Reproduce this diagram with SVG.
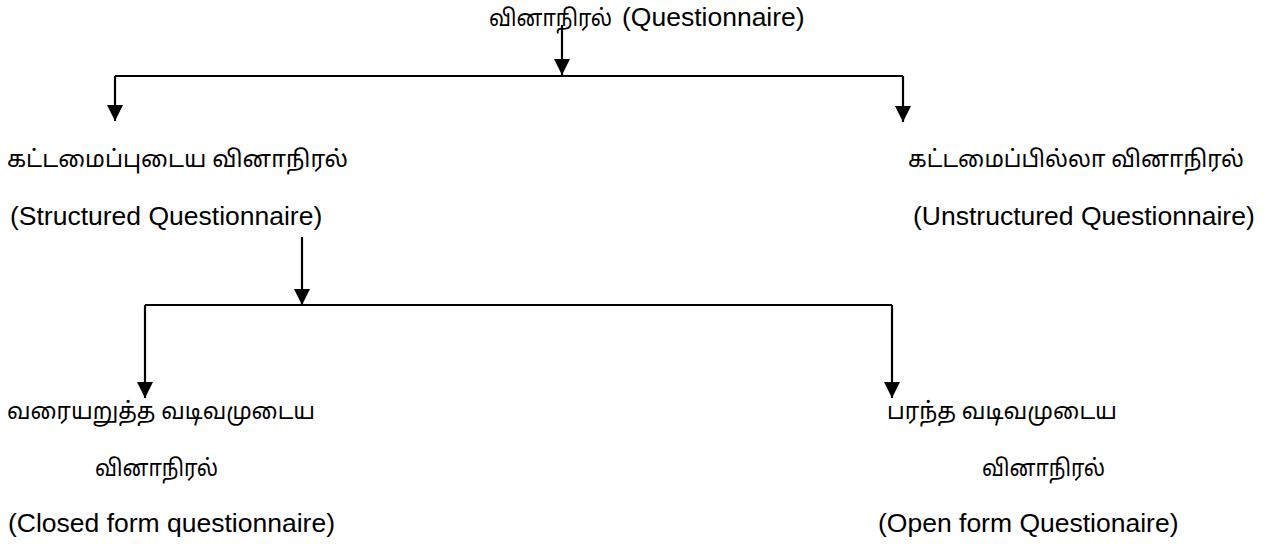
<svg xmlns="http://www.w3.org/2000/svg" width="1278" height="544" viewBox="0 0 1278 544">
<defs>
<style>
.en{font-family:"Liberation Sans",Arial,sans-serif;font-size:26.5px;fill:#000}
.ta{font-family:"Noto Sans Tamil","Latha","Noto Sans","DejaVu Sans",sans-serif;font-size:23.5px;fill:#000}
.ln{stroke:#000;stroke-width:2.2;fill:none}
</style>
<marker id="ah" markerUnits="userSpaceOnUse" markerWidth="16" markerHeight="16" viewBox="0 0 16 16" refX="16" refY="8" orient="auto">
<path d="M0,0 L16,8 L0,16 Z" fill="#000"/>
</marker>
</defs>
<rect width="1278" height="544" fill="#fff"/>
<g id="connectors">
<path class="ln" d="M562,25 V75" marker-end="url(#ah)"/>
<path class="ln" d="M115,76 H903"/>
<path class="ln" d="M115,76 V121" marker-end="url(#ah)"/>
<path class="ln" d="M903,76 V122" marker-end="url(#ah)"/>
<path class="ln" d="M302,237 V305" marker-end="url(#ah)"/>
<path class="ln" d="M145,305 H892"/>
<path class="ln" d="M145,305 V398" marker-end="url(#ah)"/>
<path class="ln" d="M892,305 V398" marker-end="url(#ah)"/>
</g>
<g id="node-questionnaire">
<text class="ta" x="489" y="26" textLength="123" lengthAdjust="spacingAndGlyphs">வினாநிரல்</text>
<text class="en" x="622" y="26">(Questionnaire)</text>
</g>
<g id="node-structured">
<text class="ta" x="7" y="167" textLength="341" lengthAdjust="spacingAndGlyphs">கட்டமைப்புடைய வினாநிரல்</text>
<text class="en" x="10" y="225">(Structured Questionnaire)</text>
</g>
<g id="node-unstructured">
<text class="ta" x="908" y="167" textLength="336" lengthAdjust="spacingAndGlyphs">கட்டமைப்பில்லா வினாநிரல்</text>
<text class="en" x="913" y="225">(Unstructured Questionnaire)</text>
</g>
<g id="node-closed">
<text class="ta" x="7" y="419" textLength="308" lengthAdjust="spacingAndGlyphs">வரையறுத்த வடிவமுடைய</text>
<text class="ta" x="95" y="476" textLength="123" lengthAdjust="spacingAndGlyphs">வினாநிரல்</text>
<text class="en" x="8" y="532">(Closed form questionnaire)</text>
</g>
<g id="node-open">
<text class="ta" x="887" y="419" textLength="230" lengthAdjust="spacingAndGlyphs">பரந்த வடிவமுடைய</text>
<text class="ta" x="982" y="476" textLength="123" lengthAdjust="spacingAndGlyphs">வினாநிரல்</text>
<text class="en" x="878" y="532">(Open form Questionaire)</text>
</g>
</svg>
